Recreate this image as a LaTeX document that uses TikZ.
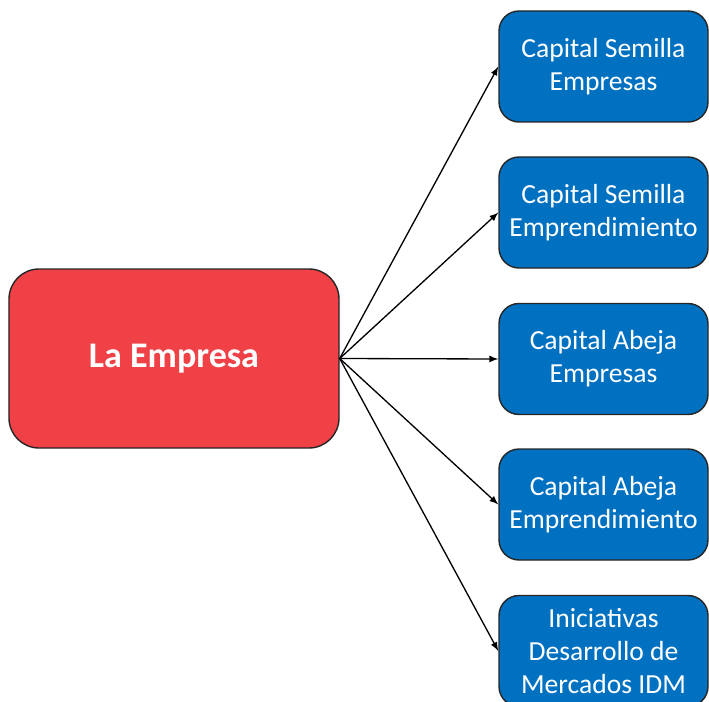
\documentclass[tikz,border=0pt]{standalone}
\usepackage{fontspec}
\setmainfont{Carlito}
\usetikzlibrary{arrows,positioning}

\definecolor{empresared}{RGB}{239,65,70}
\definecolor{fondoblue}{RGB}{0,112,192}

\begin{document}
\begin{tikzpicture}[
    main/.style={rectangle, draw=black!85, line width=0.8pt, rounded corners=0.6cm, minimum width=6.6cm, minimum height=3.58cm, fill=empresared, text=white, font=\fontsize{20.5}{24}\selectfont\bfseries},
    fondo/.style={rectangle, draw=black!85, line width=0.8pt, rounded corners=0.4cm, minimum width=4.18cm, minimum height=2.22cm, fill=fondoblue, text=white, align=center, inner sep=0pt, font=\fontsize{15.7}{18.9}\selectfont},
    arrow/.style={-latex, line width=0.75pt}
]

\useasboundingbox (0,0) rectangle (14.18,14.02);

% Origin
\node[main] (empresa) at (3.48,6.85) {La Empresa};

% Funds
\node[fondo] (sememp) at (12.07,12.69) {Capital Semilla\\Empresas};
\node[fondo] (semempr) at (12.07,9.77) {Capital Semilla\\Emprendimiento};
\node[fondo] (abeemp) at (12.07,6.84) {Capital Abeja\\Empresas};
\node[fondo] (abeempr) at (12.07,3.93) {Capital Abeja\\Emprendimiento};
\node[fondo] (idm) at (12.07,1.00) {Iniciativas\\Desarrollo de\\Mercados IDM};

% Arrows
\draw[arrow] (empresa.east) -- (sememp.west);
\draw[arrow] (empresa.east) -- (semempr.west);
\draw[arrow] (empresa.east) -- (abeemp.west);
\draw[arrow] (empresa.east) -- (abeempr.west);
\draw[arrow] (empresa.east) -- (idm.west);

\end{tikzpicture}
\end{document}
